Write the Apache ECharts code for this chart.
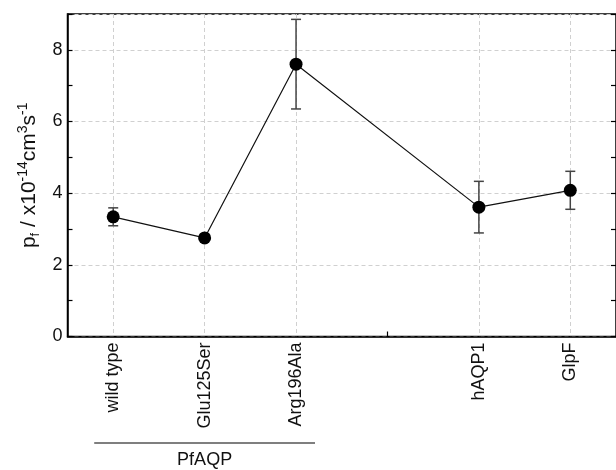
<!DOCTYPE html>
<html>
<head>
<meta charset="utf-8">
<script src="https://cdn.jsdelivr.net/npm/echarts@6/dist/echarts.min.js"></script>
<style>
  html, body { margin: 0; padding: 0; background: #fff; }
  #chart { width: 616px; height: 470px; }
</style>
</head>
<body>
<div id="chart"></div>
<script>
    // 数据
    var categories = ['wild type', 'Glu125Ser', 'Arg196Ala', '', 'hAQP1', 'GlpF'];
    var pfValues   = [3.34, 2.75, 7.60, null, 3.61, 4.08];
    var pfErrors   = [0.25, 0.05, 1.25, null, 0.72, 0.53];
    var groupLabel = 'PfAQP';

    var FONT = 'Liberation Sans, Arial, sans-serif';

    var errorData = [];
    for (var i = 0; i < categories.length; i++) {
        if (pfValues[i] != null) {
            errorData.push([i, pfValues[i] - pfErrors[i], pfValues[i] + pfErrors[i]]);
        }
    }

    function renderError(params, api) {
        var x = api.value(0);
        var top = api.coord([x, api.value(2)]);
        var bot = api.coord([x, api.value(1)]);
        var w = 5;
        var st = { stroke: '#444', lineWidth: 1.5 };
        return {
            type: 'group',
            children: [
                { type: 'line', shape: { x1: top[0], y1: top[1], x2: bot[0], y2: bot[1] }, style: st },
                { type: 'line', shape: { x1: top[0] - w, y1: top[1], x2: top[0] + w, y2: top[1] }, style: st },
                { type: 'line', shape: { x1: bot[0] - w, y1: bot[1], x2: bot[0] + w, y2: bot[1] }, style: st }
            ]
        };
    }

    var gridLine = { show: true, lineStyle: { color: '#d0d0d0', type: [4, 3], width: 1 } };

    var option = {
        animation: false,
        backgroundColor: '#fff',
        textStyle: { fontFamily: FONT },
        grid: {
            left: 67.5, right: -1, top: 14, bottom: 133.5,
            show: true, borderColor: '#000', borderWidth: 1.5, backgroundColor: 'transparent'
        },
        xAxis: {
            type: 'category',
            data: categories,
            boundaryGap: true,
            axisLine: { lineStyle: { color: '#000', width: 1.5 } },
            axisTick: {
                show: true, inside: true, length: 5, alignWithLabel: true,
                interval: function (idx, val) { return val === ''; },
                lineStyle: { color: '#000', width: 1.2 }
            },
            axisLabel: {
                interval: 0, rotate: 90, margin: 6,
                fontSize: 18, color: '#111', fontFamily: FONT
            },
            splitLine: {
                show: true, alignWithLabel: true,
                interval: function (idx, val) { return val !== ''; },
                lineStyle: { color: '#d0d0d0', type: [4, 3], width: 1 }
            }
        },
        yAxis: [
            {
                type: 'value', min: 0, max: 9, interval: 1, position: 'left',
                axisLine: { show: true, lineStyle: { color: '#000', width: 1.5 } },
                axisTick: { show: true, inside: true, length: 5, lineStyle: { color: '#000', width: 1.2 } },
                axisLabel: {
                    fontSize: 18, color: '#111', margin: 5, fontFamily: FONT,
                    formatter: function (v) { return v % 2 === 0 ? String(v) : ''; }
                },
                splitLine: { show: false },
                name: '{a|p}{b|f}{a| / x10}{c|-14}{a|cm}{c|3}{a|s}{c|-1}',
                nameLocation: 'middle',
                nameRotate: 90,
                nameGap: 22,
                nameTextStyle: {
                    rich: {
                        a: { fontSize: 21, color: '#111', fontFamily: FONT, lineHeight: 25 },
                        b: { fontSize: 13, color: '#111', fontFamily: FONT, lineHeight: 13, verticalAlign: 'bottom' },
                        c: { fontSize: 14, color: '#111', fontFamily: FONT, lineHeight: 14, verticalAlign: 'top' }
                    }
                }
            },
            {
                type: 'value', min: 0, max: 9, interval: 2, position: 'left',
                axisLine: { show: false }, axisTick: { show: false }, axisLabel: { show: false },
                splitLine: gridLine
            },
            {
                type: 'value', min: 0, max: 9, interval: 1, position: 'right',
                axisLine: { show: false },
                axisTick: { show: true, inside: true, length: 5, lineStyle: { color: '#000', width: 1.2 } },
                axisLabel: { show: false },
                splitLine: { show: false }
            }
        ],
        series: [
            {
                type: 'custom',
                renderItem: renderError,
                data: errorData,
                z: 3
            },
            {
                type: 'line',
                data: pfValues,
                connectNulls: true,
                symbol: 'circle',
                symbolSize: 13,
                itemStyle: { color: '#000' },
                lineStyle: { color: '#111', width: 1.2 },
                z: 5
            }
        ]
    };

    var myChart = echarts.init(document.getElementById('chart'), null, { renderer: 'canvas' });
    myChart.setOption(option);

    // PfAQP 分组标注
    var x0 = myChart.convertToPixel({ xAxisIndex: 0 }, 0) - 19;
    var x2 = myChart.convertToPixel({ xAxisIndex: 0 }, 2) + 19;
    myChart.setOption({
        graphic: [
            { type: 'line', shape: { x1: x0, y1: 443, x2: x2, y2: 443 }, style: { stroke: '#000', lineWidth: 1.2 } },
            {
                type: 'text', x: (x0 + x2) / 2, y: 460,
                style: { text: groupLabel, fontSize: 18, fill: '#111', fontFamily: FONT, align: 'center', verticalAlign: 'middle' }
            }
        ]
    });
</script>
</body>
</html>
